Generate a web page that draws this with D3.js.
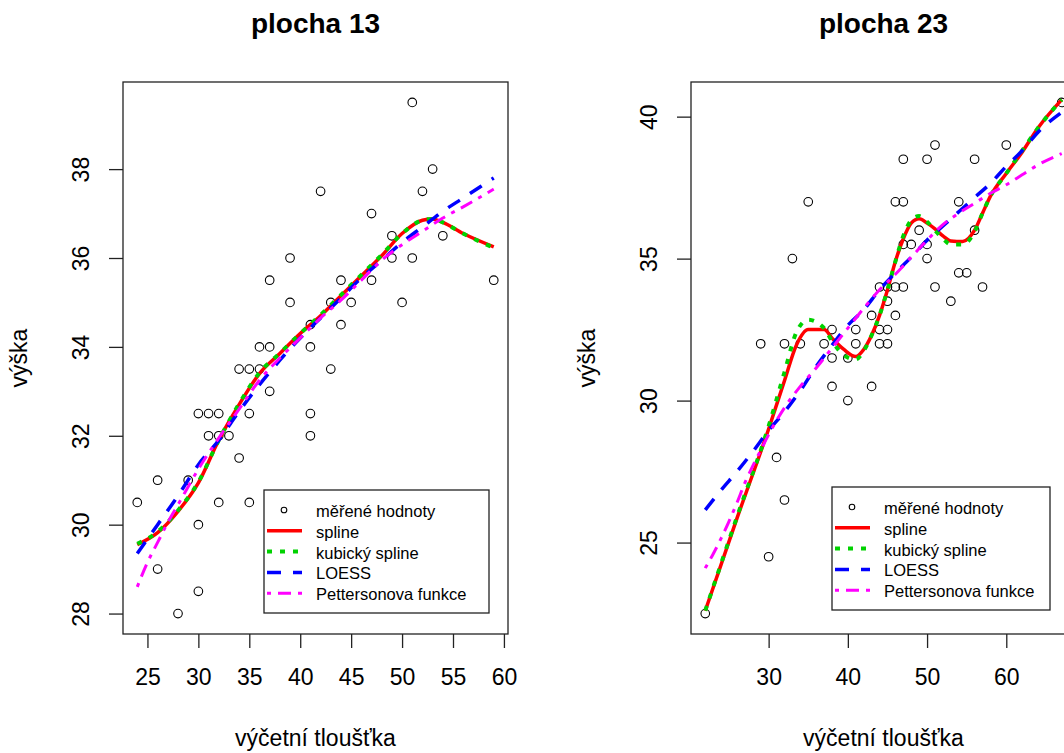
<!DOCTYPE html>
<html>
<head>
<meta charset="utf-8">
<script src="https://cdn.jsdelivr.net/npm/d3@7/dist/d3.min.js"></script>
<style>
	body { margin: 0; background: #fff; }
	svg { display: block; }
	text { font-family: "Liberation Sans", Arial, sans-serif; fill: #000; }
</style>
</head>
<body>
<svg></svg>
<script>
'use strict';

// plocha 13 - measured values
const p13Dbh = [51, 53, 52, 42, 47, 49, 54, 39, 49, 51, 59, 37, 44, 47, 39, 43, 45, 50, 41, 44,
	36, 37, 41, 43, 34, 35, 36, 37, 30, 31, 32, 35, 41, 31, 32, 33, 41, 34, 26, 29,
	24, 32, 35, 30, 26, 30, 28];
const p13Height = [39.5, 38, 37.5, 37.5, 37, 36.5, 36.5, 36, 36, 36, 35.5, 35.5, 35.5, 35.5, 35, 35, 35, 35, 34.5, 34.5,
	34, 34, 34, 33.5, 33.5, 33.5, 33.5, 33, 32.5, 32.5, 32.5, 32.5, 32.5, 32, 32, 32, 32, 31.5, 31, 31,
	30.5, 30.5, 30.5, 30, 29, 28.5, 28];

// plocha 13 - fitted curves
const p13SplineX = [24, 26, 28, 30, 32, 34, 36, 38, 40, 42, 44, 46, 48, 50, 52, 53, 54, 56, 59];
const p13SplineY = [29.55, 29.82, 30.3, 30.94, 31.9, 32.7, 33.4, 33.85, 34.3, 34.7, 35.15, 35.6, 36.05, 36.55, 36.85, 36.88, 36.8, 36.55, 36.25];
const p13CubicY = [29.57, 29.84, 30.32, 30.96, 31.9, 32.72, 33.42, 33.86, 34.3, 34.72, 35.17, 35.62, 36.07, 36.55, 36.85, 36.88, 36.8, 36.55, 36.23];
const p13LoessX = [24, 26, 28, 30, 32, 34, 36, 38, 40, 42, 44, 46, 48, 50, 52, 54, 56, 59];
const p13LoessY = [29.35, 30.0, 30.65, 31.35, 31.9, 32.55, 33.15, 33.7, 34.2, 34.65, 35.1, 35.55, 35.95, 36.35, 36.7, 37.05, 37.35, 37.8];
const p13PetX = [24, 25, 26, 27, 28, 30, 32, 34, 36, 38, 40, 42, 44, 46, 48, 50, 52, 54, 56, 59];
const p13PetY = [28.6, 29.15, 29.6, 30.05, 30.45, 31.25, 31.95, 32.6, 33.25, 33.75, 34.2, 34.65, 35.05, 35.5, 35.95, 36.3, 36.6, 36.9, 37.15, 37.55];

// plocha 23 - measured values
const p23Dbh = [22, 30, 32, 31, 40, 38, 43, 38, 40, 29, 32, 34, 37, 41, 44, 45, 38, 41, 44, 45,
	43, 46, 45, 53, 44, 45, 46, 47, 51, 57, 54, 55, 33, 50, 47, 48, 50, 49, 56, 35,
	46, 47, 54, 47, 50, 56, 51, 60, 67];
const p23Height = [22.5, 24.5, 26.5, 28, 30, 30.5, 30.5, 31.5, 31.5, 32, 32, 32, 32, 32, 32, 32, 32.5, 32.5, 32.5, 32.5,
	33, 33, 33.5, 33.5, 34, 34, 34, 34, 34, 34, 34.5, 34.5, 35, 35, 35.5, 35.5, 35.5, 36, 36, 37,
	37, 37, 37, 38.5, 38.5, 38.5, 39, 39, 40.5];

// plocha 23 - fitted curves
const p23SplineX = [22, 26, 30, 32, 33.5, 35, 37, 38, 39.5, 41, 42, 43, 44, 45, 46, 47, 48, 49, 50, 51, 52, 53, 54.5, 56, 57, 58, 60, 62, 64, 67];
const p23SplineY = [22.6, 25.85, 29.0, 30.7, 31.95, 32.5, 32.5, 32.2, 31.8, 31.55, 31.8, 32.3, 33.0, 33.9, 34.9, 35.7, 36.25, 36.4, 36.25, 36.05, 35.8, 35.62, 35.6, 36.0, 36.6, 37.2, 38.0, 38.75, 39.6, 40.6];
const p23CubicY = [22.6, 25.9, 29.1, 31.0, 32.4, 32.85, 32.55, 32.1, 31.6, 31.45, 31.75, 32.3, 33.0, 33.9, 34.9, 35.8, 36.35, 36.5, 36.3, 36.0, 35.7, 35.5, 35.5, 35.95, 36.6, 37.2, 38.0, 38.8, 39.6, 40.6];
const p23LoessX = [22, 24, 26, 28, 30, 32, 34, 36, 38, 40, 42, 44, 46, 48, 50, 52, 54, 56, 58, 60, 62, 64, 67];
const p23LoessY = [26.15, 26.85, 27.5, 28.2, 28.95, 29.6, 30.35, 31.2, 31.95, 32.65, 33.2, 33.9, 34.5, 35.05, 35.65, 36.15, 36.65, 37.15, 37.65, 38.25, 38.8, 39.45, 40.15];
const p23PetX = [22, 23, 24, 25, 26, 27, 28, 29, 30, 32, 34, 36, 38, 40, 42, 44, 46, 48, 50, 52, 54, 56, 58, 60, 62, 64, 67];
const p23PetY = [24.1, 24.6, 25.15, 25.75, 26.4, 27.1, 27.7, 28.25, 28.8, 29.75, 30.5, 31.15, 31.85, 32.55, 33.25, 33.9, 34.45, 35.05, 35.65, 36.2, 36.6, 36.95, 37.3, 37.6, 37.95, 38.3, 38.7];

// tick labels
const p13XTicks = [25, 30, 35, 40, 45, 50, 55, 60];
const p13YTicks = [28, 30, 32, 34, 36, 38];
const p23XTicks = [30, 40, 50, 60];
const p23YTicks = [25, 30, 35, 40];

const legendLabels = ['měřené hodnoty', 'spline', 'kubický spline', 'LOESS', 'Pettersonova funkce'];

const opts = {
	width: 1064,
	height: 753,
	top: 82,
	bottom: 634,
	plotWidth: 385,
	tickLen: 14,
	axisFont: 23,
	legendFont: 16.5
};

// line styles of the four fitted curves
const curveStyles = [
	{ color: '#ff0000', width: 3.5, dash: null },
	{ color: '#00d200', width: 4, dash: '5,8' },
	{ color: '#0000ff', width: 3.5, dash: '14,12' },
	{ color: '#ff00ff', width: 3, dash: '4,7,13,7' }
];

const svg = d3.select('svg')
	.attr('width', opts.width)
	.attr('height', opts.height);

// R style range with 4% padding on both ends
const padded = (vals) => {
	const [lo, hi] = d3.extent(vals);
	const d = (hi - lo) * 0.04;
	return [lo - d, hi + d];
};

const zip = (xs, ys) => xs.map((x, i) => [x, ys[i]]);

/*
* drawPanel()
* draws one scatter plot with its curves, axes and legend
*/
function drawPanel(p) {
	const left = p.left;
	const right = left + opts.plotWidth;

	const x = d3.scaleLinear().domain(padded(p.dbh)).range([left, right]);
	const y = d3.scaleLinear().domain(padded(p.height)).range([opts.bottom, opts.top]);

	const g = svg.append('g');

	// x axis
	const xAxis = g.append('g')
		.attr('transform', `translate(0,${opts.bottom})`)
		.call(d3.axisBottom(x).tickValues(p.xTicks).tickSize(opts.tickLen).tickPadding(21));
	xAxis.select('.domain').remove();
	xAxis.selectAll('line').attr('stroke', '#222').attr('stroke-width', 1.3);
	xAxis.selectAll('text')
		.attr('font-size', opts.axisFont)
		.attr('font-family', '"Liberation Sans", Arial, sans-serif')
		.attr('fill', '#000');

	// y axis, labels turned like R does
	const yAxis = g.append('g')
		.attr('transform', `translate(${left},0)`)
		.call(d3.axisLeft(y).tickValues(p.yTicks).tickSize(opts.tickLen));
	yAxis.select('.domain').remove();
	yAxis.selectAll('line').attr('stroke', '#222').attr('stroke-width', 1.3);
	yAxis.selectAll('text')
		.attr('x', 0)
		.attr('dy', 0)
		.attr('transform', 'translate(-34,0) rotate(-90)')
		.attr('text-anchor', 'middle')
		.attr('font-size', opts.axisFont)
		.attr('font-family', '"Liberation Sans", Arial, sans-serif')
		.attr('fill', '#000');

	// box
	g.append('rect')
		.attr('x', left)
		.attr('y', opts.top)
		.attr('width', opts.plotWidth)
		.attr('height', opts.bottom - opts.top)
		.attr('fill', 'none')
		.attr('stroke', '#222')
		.attr('stroke-width', 1.3);

	// titles
	const cx = (left + right) / 2;
	g.append('text')
		.text(p.title)
		.attr('x', cx)
		.attr('y', 33)
		.attr('text-anchor', 'middle')
		.attr('font-size', 28)
		.attr('font-weight', 'bold');

	g.append('text')
		.text('výčetní tloušťka')
		.attr('x', cx)
		.attr('y', 746)
		.attr('text-anchor', 'middle')
		.attr('font-size', opts.axisFont);

	g.append('text')
		.text('výška')
		.attr('transform', `translate(${left - 96},${(opts.top + opts.bottom) / 2}) rotate(-90)`)
		.attr('text-anchor', 'middle')
		.attr('font-size', opts.axisFont);

	// measured points
	g.append('g').selectAll('circle')
		.data(zip(p.dbh, p.height))
		.join('circle')
		.attr('cx', d => x(d[0]))
		.attr('cy', d => y(d[1]))
		.attr('r', 4.3)
		.attr('fill', 'none')
		.attr('stroke', '#000')
		.attr('stroke-width', 1.1);

	// fitted curves
	const line = d3.line()
		.x(d => x(d[0]))
		.y(d => y(d[1]))
		.curve(d3.curveMonotoneX);

	p.curves.forEach((c, i) => {
		const s = curveStyles[i];
		g.append('path')
			.datum(zip(c[0], c[1]))
			.attr('d', line)
			.attr('fill', 'none')
			.attr('stroke', s.color)
			.attr('stroke-width', s.width)
			.attr('stroke-dasharray', s.dash);
	});

	// legend
	const lg = g.append('g').attr('transform', `translate(${p.legend.x},${p.legend.y})`);
	lg.append('rect')
		.attr('width', p.legend.w)
		.attr('height', 123)
		.attr('fill', '#fff')
		.attr('stroke', '#222')
		.attr('stroke-width', 1.3);

	legendLabels.forEach((lab, i) => {
		const ry = 20 + i * 20.8;
		if (i === 0) {
			lg.append('circle')
				.attr('cx', 20)
				.attr('cy', ry)
				.attr('r', 2.8)
				.attr('fill', 'none')
				.attr('stroke', '#000')
				.attr('stroke-width', 1.1);
		} else {
			const s = curveStyles[i - 1];
			lg.append('line')
				.attr('x1', 3)
				.attr('x2', 38)
				.attr('y1', ry)
				.attr('y2', ry)
				.attr('stroke', s.color)
				.attr('stroke-width', s.width)
				.attr('stroke-dasharray', s.dash);
		}
		lg.append('text')
			.text(lab)
			.attr('x', 52)
			.attr('y', ry + 7)
			.attr('font-size', opts.legendFont);
	});
}

drawPanel({
	title: 'plocha 13',
	left: 123,
	dbh: p13Dbh,
	height: p13Height,
	xTicks: p13XTicks,
	yTicks: p13YTicks,
	curves: [
		[p13SplineX, p13SplineY],
		[p13SplineX, p13CubicY],
		[p13LoessX, p13LoessY],
		[p13PetX, p13PetY]
	],
	legend: { x: 264, y: 490, w: 225 }
});

drawPanel({
	title: 'plocha 23',
	left: 691,
	dbh: p23Dbh,
	height: p23Height,
	xTicks: p23XTicks,
	yTicks: p23YTicks,
	curves: [
		[p23SplineX, p23SplineY],
		[p23SplineX, p23CubicY],
		[p23LoessX, p23LoessY],
		[p23PetX, p23PetY]
	],
	legend: { x: 832, y: 487, w: 218 }
});
</script>
</body>
</html>
